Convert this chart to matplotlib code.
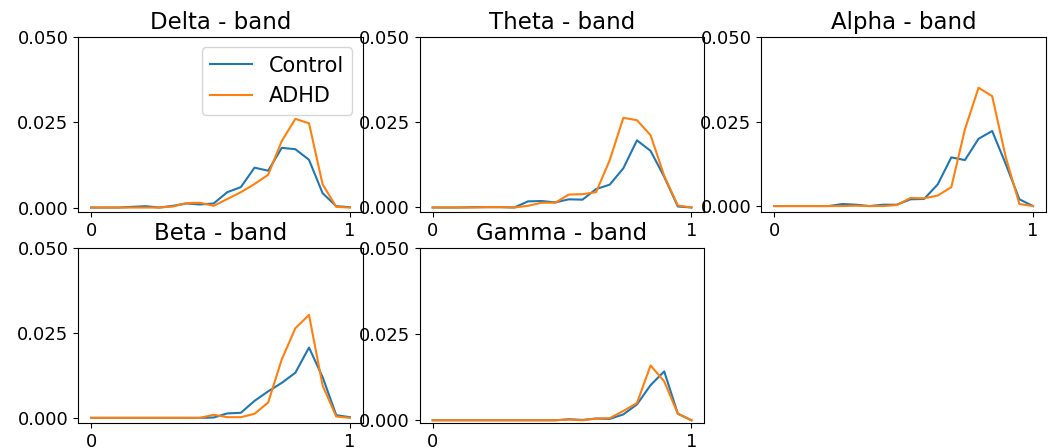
import numpy as np
import matplotlib
matplotlib.use("Agg")
import matplotlib.pyplot as plt

# 20 evenly spaced positions between 0 and 1
x = np.linspace(0, 1, 20)

bands = ["Delta", "Theta", "Alpha", "Beta", "Gamma"]

delta_control = [0, 0, 0, 0.0002, 0.0004, 0, 0.0005, 0.0012, 0.0009, 0.0012,
                 0.0045, 0.006, 0.0117, 0.0108, 0.0175, 0.0171, 0.014, 0.0042, 0.0004, 0.0001]
delta_adhd = [0, 0, 0, 0, 0, 0, 0.0003, 0.0013, 0.0014, 0.0005,
              0.0025, 0.0045, 0.0069, 0.0096, 0.0195, 0.026, 0.0247, 0.0068, 0.0002, 0]

theta_control = [0, 0, 0, 0.0001, 0.0001, 0.0001, 0, 0.0018, 0.0019, 0.0015,
                 0.0024, 0.0023, 0.0054, 0.0067, 0.0115, 0.0197, 0.0166, 0.009, 0.0003, 0]
theta_adhd = [0, 0, 0, 0, 0.0001, 0.0001, 0, 0.0005, 0.0014, 0.0014,
              0.0038, 0.0039, 0.0045, 0.0139, 0.0263, 0.0256, 0.0212, 0.0093, 0.0006, 0]

alpha_control = [0, 0, 0, 0, 0, 0.0006, 0.0004, 0, 0.0004, 0.0004,
                 0.002, 0.0021, 0.0064, 0.0144, 0.0136, 0.0199, 0.0222, 0.0124, 0.002, 0]
alpha_adhd = [0, 0, 0, 0, 0, 0, 0.0001, 0, 0, 0.0003,
              0.0024, 0.0023, 0.0031, 0.0056, 0.0227, 0.035, 0.0325, 0.0144, 0.0006, 0]

beta_control = [0, 0, 0, 0, 0, 0, 0, 0, 0, 0.0001,
                0.0013, 0.0015, 0.005, 0.0078, 0.0103, 0.0133, 0.0207, 0.012, 0.0008, 0.0002]
beta_adhd = [0, 0, 0, 0, 0, 0, 0, 0, 0, 0.0009,
             0.0002, 0.0002, 0.0012, 0.0045, 0.0172, 0.0264, 0.0303, 0.0095, 0.0004, 0]

gamma_control = [0, 0, 0, 0, 0, 0, 0, 0, 0, 0,
                 0.0003, 0.0001, 0.0005, 0.0004, 0.0017, 0.0046, 0.0102, 0.0142, 0.0019, 0]
gamma_adhd = [0, 0, 0, 0, 0, 0, 0, 0, 0, 0,
              0.0002, 0, 0.0005, 0.0006, 0.0027, 0.005, 0.0159, 0.0113, 0.0019, 0]

control = [delta_control, theta_control, alpha_control, beta_control, gamma_control]
adhd = [delta_adhd, theta_adhd, alpha_adhd, beta_adhd, gamma_adhd]

fig, axes = plt.subplots(2, 3, figsize=(10.56, 4.48), dpi=100)
axes = axes.flatten()
for i, band in enumerate(bands):
    ax = axes[i]
    ax.plot(x, control[i], label="Control")
    ax.plot(x, adhd[i], label="ADHD")
    ax.set_ylim(top=0.05)
    ax.set_yticks([0, 0.025, 0.05])
    ax.set_yticklabels(["0.000", "0.025", "0.050"])
    ax.set_xticks([0, 1])
    ax.tick_params(labelsize=13)
    ax.set_title(f"{band} - band", fontsize=16.5)
    if i == 0:
        ax.legend(fontsize=15, loc="upper right")
fig.delaxes(axes[5])
plt.subplots_adjust(left=0.074, right=0.9905, top=0.9174, bottom=0.0558,
                    wspace=0.2, hspace=0.206)
plt.savefig("out.png")
